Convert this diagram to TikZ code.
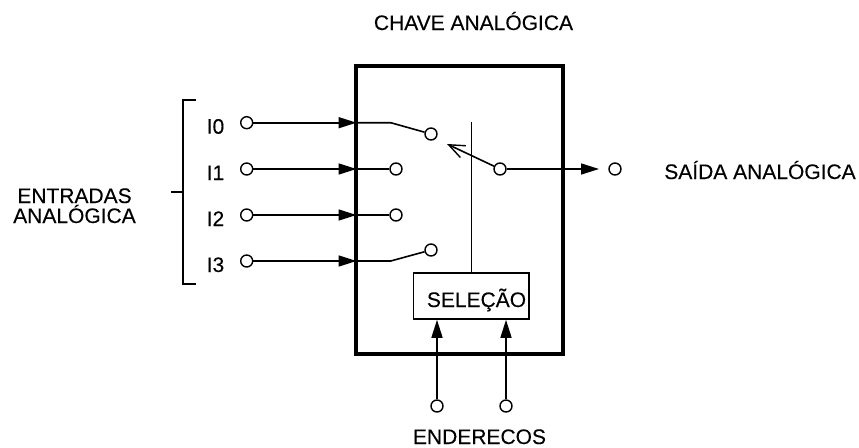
\documentclass[tikz,border=0pt]{standalone}
\usepackage{fontspec}
\setmainfont[FakeBold=0.2]{Liberation Sans}
\usetikzlibrary{arrows.meta}
\tikzset{
  term/.style={circle,draw=black,fill=white,line width=1.4pt,minimum size=12pt,inner sep=0pt},
  wire/.style={line width=1.6pt,black},
  thin wire/.style={line width=0.7pt,black},
  lbl/.style={font=\fontsize{21}{20}\selectfont,inner sep=0pt,anchor=base},
  tip/.style={-{Triangle[length=18pt,width=11pt]}},
  open tip/.style={-{Straight Barb[length=16pt,width=13pt,line width=1.4pt]}}
}
\begin{document}
\begin{tikzpicture}[x=1pt,y=-1pt]
\useasboundingbox (0,0) rectangle (859,447);
\node[draw,line width=3.2pt,minimum width=207pt,minimum height=288pt,inner sep=0pt] (chave) at (459.5,210) {};
\node[draw,line width=1.6pt,minimum width=115.5pt,minimum height=46pt,inner sep=0pt] (sel) at (471.25,296) {};
\node[lbl] (seltxt) at (476.5,307) {SELEÇÃO};
% inputs
\foreach \n/\y in {0/122.7,1/169,2/215,3/261}{
  \node[term] (i\n) at (246.7,\y) {};
  \node[lbl] (l\n) at (215.5,\y+11) {I\n};
  \coordinate (a\n) at (356.5,\y);
}
\node[term] (t0) at (431,134) {};
\node[term] (t1) at (396,169) {};
\node[term] (t2) at (396,215) {};
\node[term] (t3) at (431,250) {};
\coordinate (b0) at (390.7,122.7);
\coordinate (b3) at (390.7,261);
\draw[wire] (a0) -- (b0) -- (t0);
\draw[wire] (a1) -- (t1);
\draw[wire] (a2) -- (t2);
\draw[wire] (a3) -- (b3) -- (t3);
\foreach \n in {0,1,2,3}{ \draw[wire,tip] (i\n) -- (a\n); }
% common
\node[term] (com) at (500,169) {};
\coordinate (armtip) at (447,144);
\draw[wire,open tip] (com) -- (armtip);
\node[term] (out) at (615,169) {};
\coordinate (outtip) at (599,169);
\draw[wire,tip] (com) -- (outtip);
% selection line
\coordinate (seltop) at (471,122);
\draw[thin wire] (sel.north -| seltop) -- (seltop);
% addresses
\node[term] (e0) at (437,406) {};
\node[term] (e1) at (506,406) {};
\draw[wire,tip] (e0) -- (e0 |- sel.south);
\draw[wire,tip] (e1) -- (e1 |- sel.south);
% bracket
\coordinate (bt) at (196,100);
\coordinate (bb) at (196,284);
\coordinate (bm) at (183,192);
\coordinate (bl) at (171,192);
\draw[line width=1.3pt] (bt) -- (183,100) -- (183,284) -- (bb);
\draw[line width=1.3pt] (bl) -- (bm);
% labels
\node[lbl] (titulo) at (473.5,30) {CHAVE ANALÓGICA};
\node[lbl] (ent1) at (74.5,203) {ENTRADAS};
\node[lbl] (ent2) at (74.5,223) {ANALÓGICA};
\node[lbl] (saida) at (760,179) {SAÍDA ANALÓGICA};
\node[lbl] (end) at (479.5,444) {ENDERECOS};
\end{tikzpicture}
\end{document}
